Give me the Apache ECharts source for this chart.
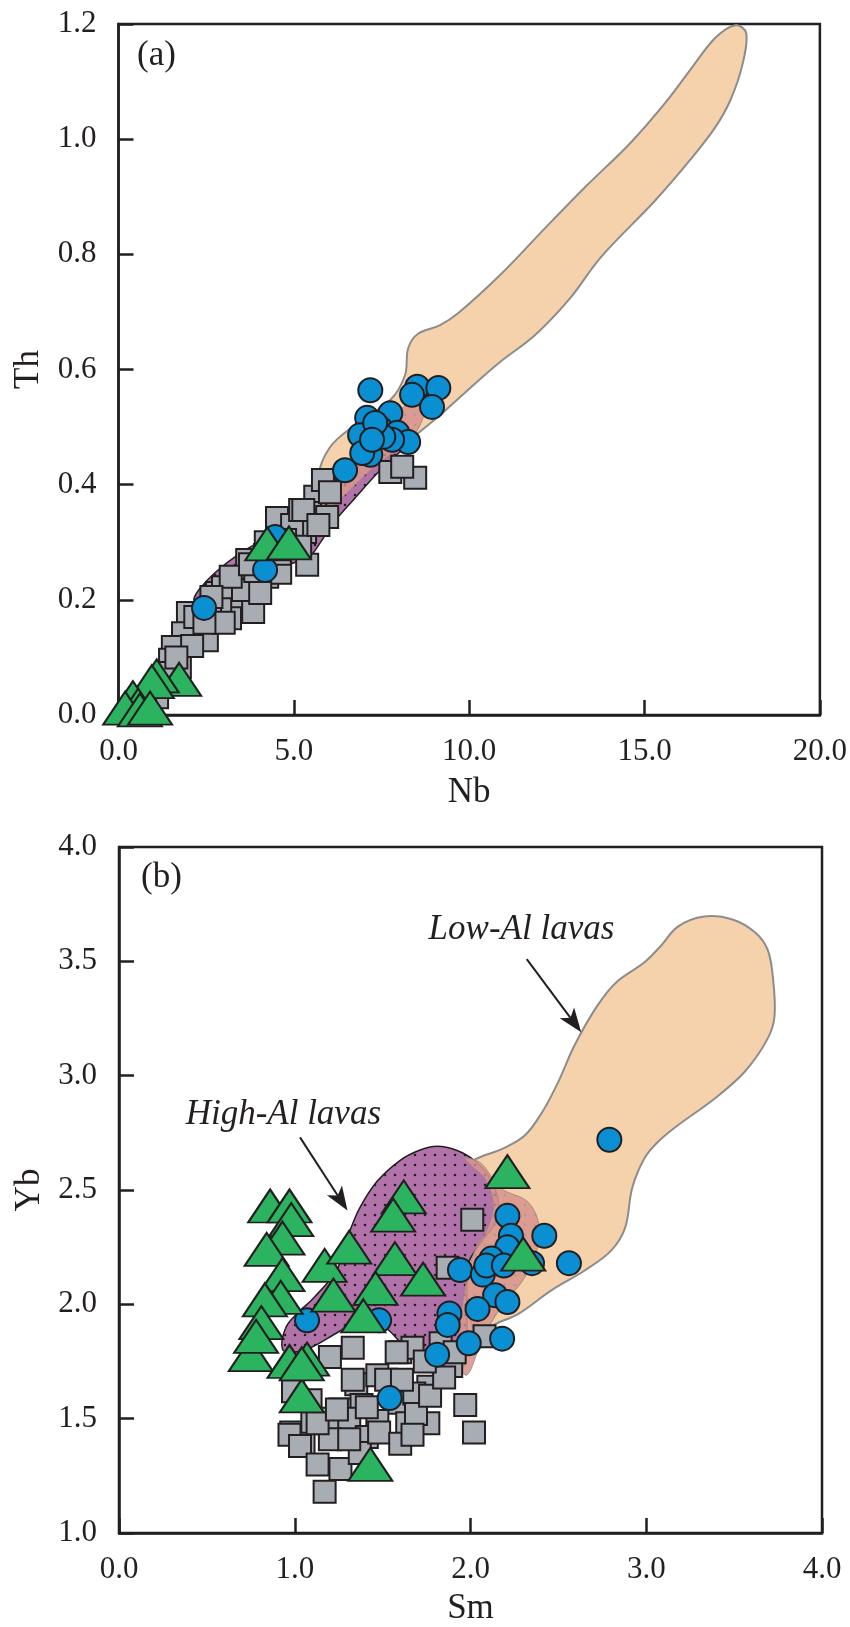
<!DOCTYPE html>
<html>
<head>
<meta charset="utf-8">
<script src="https://cdn.jsdelivr.net/npm/echarts@6/dist/echarts.min.js"></script>
<style>
  html, body { margin: 0; padding: 0; background: #fff; }
  #chart { width: 850px; height: 1627px; }
</style>
</head>
<body>
<div id="chart"></div>
<script>
// ---------- Panel (a): Th vs Nb ----------
const nbTicks = [0, 5, 10, 15, 20];
const thTicks = [0, 0.2, 0.4, 0.6, 0.8, 1.0, 1.2];

const aSquares = [
  [5.89, 0.403], [5.61, 0.379], [5.46, 0.351], [5.95, 0.344], [4.52, 0.342],
  [4.98, 0.321], [5.32, 0.318], [5.38, 0.261], [4.04, 0.261], [4.24, 0.240],
  [4.61, 0.247], [4.95, 0.330], [3.67, 0.269], [3.81, 0.234], [3.27, 0.203],
  [2.81, 0.212], [3.84, 0.179], [3.18, 0.168], [2.70, 0.177], [2.33, 0.148],
  [1.98, 0.177], [1.84, 0.142], [2.52, 0.130], [1.55, 0.118], [1.47, 0.096],
  [1.75, 0.083], [1.38, 0.073], [1.10, 0.031], [0.76, 0.017], [7.75, 0.422],
  [8.46, 0.412], [8.09, 0.431], [5.83, 0.408], [6.03, 0.387], [4.18, 0.278],
  [3.47, 0.226], [2.90, 0.191], [2.19, 0.170], [5.18, 0.356], [4.75, 0.304],
  [5.18, 0.292], [5.27, 0.356], [3.47, 0.234], [2.98, 0.222], [2.61, 0.177],
  [3.55, 0.217], [4.04, 0.212], [4.40, 0.285], [3.00, 0.160], [2.10, 0.120],
  [1.65, 0.100], [5.70, 0.330], [4.20, 0.300], [3.90, 0.250], [2.45, 0.160],
  [3.20, 0.240], [2.65, 0.205], [3.75, 0.262], [4.60, 0.280]
];
const aCircles = [
  [7.18, 0.564], [8.52, 0.570], [9.12, 0.568], [8.37, 0.556], [8.94, 0.535],
  [7.75, 0.524], [7.09, 0.516], [7.46, 0.498], [6.89, 0.486], [7.95, 0.490],
  [8.26, 0.474], [7.80, 0.478], [7.55, 0.483], [7.18, 0.452], [6.95, 0.455],
  [6.46, 0.425], [7.32, 0.507], [7.23, 0.478], [4.47, 0.309], [4.18, 0.252],
  [2.44, 0.186]
];
const aTriangles = [
  [4.24, 0.297], [4.86, 0.299], [1.73, 0.062], [1.09, 0.068], [0.95, 0.058],
  [0.41, 0.030], [0.56, 0.017], [0.19, 0.012], [0.61, 0.009], [0.90, 0.012]
];
// outlines of the compositional fields
const aLowAlField = [
  [5.69, 0.412], [6.03, 0.465], [6.75, 0.504], [7.75, 0.547], [8.17, 0.590],
  [8.26, 0.637], [8.54, 0.662], [9.17, 0.677], [9.69, 0.698], [10.88, 0.764],
  [12.17, 0.846], [13.31, 0.917], [14.59, 0.993], [15.59, 1.063], [16.30, 1.120],
  [17.02, 1.176], [17.59, 1.198], [17.90, 1.184], [17.79, 1.129], [17.45, 1.068],
  [17.02, 1.021], [16.30, 0.964], [15.31, 0.894], [13.74, 0.794], [12.88, 0.724],
  [11.88, 0.660], [10.88, 0.613], [10.03, 0.568], [9.17, 0.521], [8.32, 0.478],
  [7.46, 0.434], [6.46, 0.391], [5.89, 0.382]
];
const aHighAlField = [
  [2.15, 0.200], [2.30, 0.218], [2.75, 0.247], [3.47, 0.281], [4.24, 0.309],
  [4.89, 0.342], [5.55, 0.373], [6.32, 0.408], [7.18, 0.446], [7.89, 0.478],
  [8.32, 0.495], [8.46, 0.478], [8.03, 0.457], [7.46, 0.425], [6.69, 0.373],
  [6.12, 0.333], [5.75, 0.299], [5.46, 0.276], [4.89, 0.262], [4.04, 0.245],
  [3.00, 0.213], [2.35, 0.192]
];
const aOverlapField = [
  [4.89, 0.347], [5.46, 0.382], [6.18, 0.417], [6.89, 0.460], [7.61, 0.504],
  [8.18, 0.538], [8.54, 0.556], [8.75, 0.547], [8.66, 0.512], [8.32, 0.478],
  [7.75, 0.452], [7.18, 0.425], [6.46, 0.382], [5.89, 0.347], [5.32, 0.321]
];

// ---------- Panel (b): Yb vs Sm ----------
const smTicks = [0, 1, 2, 3, 4];
const ybTicks = [1.0, 1.5, 2.0, 2.5, 3.0, 3.5, 4.0];

const bSquares = [
  [2.01, 2.37], [1.97, 1.56], [2.02, 1.44], [1.87, 2.16], [2.08, 1.86],
  [1.89, 1.73], [1.76, 1.64], [1.76, 1.48], [1.33, 1.81], [1.60, 1.79],
  [1.35, 1.65], [1.47, 1.69], [1.26, 1.54], [1.38, 1.56], [1.59, 1.57],
  [1.68, 1.61], [0.99, 1.62], [0.98, 1.44], [1.10, 1.48], [1.21, 1.50],
  [1.31, 1.50], [1.47, 1.49], [1.41, 1.42], [1.64, 1.48], [1.20, 1.41],
  [1.05, 1.39], [1.20, 1.77], [0.97, 1.43], [1.03, 1.38], [1.13, 1.30],
  [1.17, 1.18], [1.26, 1.28], [1.37, 1.35], [1.48, 1.44], [1.60, 1.39],
  [1.31, 1.41], [1.13, 1.48], [1.41, 1.55], [1.24, 1.54], [1.09, 1.58],
  [1.52, 1.67], [1.33, 1.67], [1.61, 1.67], [1.67, 1.81], [1.58, 1.79],
  [1.69, 1.52], [1.67, 1.43], [1.83, 1.83], [1.77, 1.60], [1.85, 1.68],
  [1.74, 1.75], [1.91, 1.79]
];
const bCircles = [
  [2.21, 2.387], [2.23, 2.30], [2.42, 2.30], [2.21, 2.25], [2.12, 2.20],
  [1.94, 2.15], [2.07, 2.13], [2.09, 2.17], [2.19, 2.17], [2.35, 2.18],
  [2.56, 2.18], [2.14, 2.04], [2.21, 2.01], [2.04, 1.98], [1.88, 1.96],
  [1.87, 1.91], [1.99, 1.83], [2.18, 1.85], [1.81, 1.78], [1.07, 1.93],
  [1.54, 1.59], [1.48, 1.93], [2.79, 2.72]
];
const bTriangles = [
  [0.86, 2.43], [0.97, 2.43], [0.98, 2.37], [0.93, 2.29], [0.84, 2.24],
  [0.93, 2.13], [0.92, 2.03], [0.83, 2.02], [0.81, 1.92], [0.75, 1.78],
  [0.78, 1.86], [1.17, 2.17], [1.31, 2.25], [1.22, 2.04], [1.57, 2.20],
  [1.46, 2.07], [1.39, 1.95], [1.07, 1.76], [1.04, 1.60], [0.97, 1.75],
  [1.43, 1.30], [1.62, 2.47], [1.56, 2.39], [2.21, 2.58], [2.30, 2.22],
  [1.73, 2.11], [1.04, 1.74]
];
const bLowAlField = [
  [2.00, 2.617], [2.04, 2.639], [2.19, 2.683], [2.31, 2.739], [2.41, 2.843],
  [2.50, 2.974], [2.59, 3.130], [2.72, 3.304], [2.83, 3.409], [2.99, 3.496],
  [3.08, 3.565], [3.18, 3.652], [3.33, 3.696], [3.49, 3.683], [3.62, 3.626],
  [3.69, 3.552], [3.72, 3.435], [3.73, 3.261], [3.69, 3.161], [3.56, 3.017],
  [3.39, 2.900], [3.18, 2.783], [3.07, 2.713], [2.99, 2.639], [2.92, 2.509],
  [2.88, 2.335], [2.80, 2.235], [2.65, 2.148], [2.46, 2.061], [2.27, 1.957],
  [2.14, 1.913], [2.04, 1.857], [1.98, 2.03], [1.97, 2.335]
];
const bHighAlField = [
  [0.93, 1.804], [0.95, 1.900], [1.02, 1.965], [1.11, 2.030], [1.24, 2.152],
  [1.31, 2.313], [1.37, 2.422], [1.47, 2.539], [1.60, 2.630], [1.71, 2.674],
  [1.81, 2.691], [1.92, 2.674], [2.02, 2.630], [2.11, 2.552], [2.16, 2.443],
  [2.14, 2.357], [2.06, 2.270], [1.99, 2.183], [1.98, 2.074], [1.98, 1.943],
  [1.98, 1.791], [1.94, 1.704], [1.85, 1.670], [1.71, 1.750], [1.60, 1.835],
  [1.51, 1.900], [1.37, 1.930], [1.25, 1.880], [1.09, 1.810], [0.99, 1.790]
];
const bOverlapField = [
  [1.97, 2.639], [2.06, 2.617], [2.17, 2.509], [2.32, 2.452], [2.38, 2.378],
  [2.39, 2.291], [2.36, 2.196], [2.29, 2.096], [2.21, 2.022], [2.12, 1.922],
  [2.04, 1.791], [1.98, 1.691], [1.93, 1.735], [1.94, 1.900], [1.97, 2.074],
  [2.02, 2.226], [2.10, 2.335], [2.13, 2.443], [2.08, 2.552], [2.01, 2.604]
];

// annotation text anchors and arrows (Sm, Yb)
const bLabels = [
  { text: 'Low-Al lavas', at: [2.29, 3.64], from: [2.32, 3.51], to: [2.63, 3.19] },
  { text: 'High-Al lavas', at: [0.935, 2.83], from: [1.03, 2.73], to: [1.30, 2.41] }
];

// ---------- styling ----------
const INK = '#231f20';
const SERIF = '"Liberation Serif", "Times New Roman", serif';
const PEACH = '#f6d2ac';
const PURPLE = '#b173a9';
const PINK = '#d9958f';

function dotPattern(bg, dot, step, r) {
  const c = document.createElement('canvas');
  c.width = step; c.height = step;
  const g = c.getContext('2d');
  g.fillStyle = bg; g.fillRect(0, 0, step, step);
  g.fillStyle = dot;
  g.beginPath(); g.arc(step / 2, step / 2, r, 0, Math.PI * 2); g.fill();
  return { image: c, repeat: 'repeat' };
}

function fieldSeries(gi, pts, style, z) {
  return {
    type: 'custom', xAxisIndex: gi, yAxisIndex: gi, silent: true, z: z,
    clip: true,
    data: [pts[0]],
    renderItem: function (params, api) {
      return {
        type: 'polygon',
        shape: { points: pts.map(p => api.coord(p)), smooth: 0.35 },
        style: style
      };
    }
  };
}

function scatter(gi, data, kind, z) {
  const base = { type: 'scatter', xAxisIndex: gi, yAxisIndex: gi, data: data, z: z, silent: true,
    itemStyle: { borderColor: INK, borderWidth: 2, opacity: 1 } };
  if (kind === 'square') { base.symbol = 'rect'; base.symbolSize = 22; base.itemStyle.color = '#a8adb3'; }
  if (kind === 'circle') { base.symbol = 'circle'; base.symbolSize = 24; base.itemStyle.color = '#0a8fd3'; }
  if (kind === 'triangle') { base.symbol = 'triangle'; base.symbolSize = [44, 33]; base.itemStyle.color = '#2bb360'; }
  return base;
}

function valueAxis(gi, ticks, name, isX, gap) {
  return {
    type: 'value', gridIndex: gi,
    min: ticks[0], max: ticks[ticks.length - 1], interval: ticks[1] - ticks[0],
    name: name, nameLocation: 'middle', nameGap: gap,
    nameTextStyle: { fontFamily: SERIF, fontSize: 35, color: INK },
    axisLine: { show: true, onZero: false, lineStyle: { color: INK, width: 2.5 } },
    axisTick: { show: true, inside: true, length: 15, lineStyle: { color: INK, width: 2.5 } },
    axisLabel: { show: true, margin: isX ? 21 : 22, fontFamily: SERIF, fontSize: 31, color: INK,
      formatter: v => v.toFixed(1) },
    splitLine: { show: false }
  };
}

const chart = echarts.init(document.getElementById('chart'), null, { renderer: 'canvas' });

const purpleFill = dotPattern(PURPLE, INK, 10, 1.3);
const pinkFill = dotPattern(PINK, '#a89384', 10, 1.3);

chart.setOption({
  animation: false,
  backgroundColor: '#fff',
  grid: [
    { left: 118.5, top: 24, width: 701.5, height: 691, show: true, borderColor: INK, borderWidth: 2.5, backgroundColor: 'transparent' },
    { left: 119, top: 847, width: 703, height: 690, show: true, borderColor: INK, borderWidth: 2.5, backgroundColor: 'transparent' }
  ],
  xAxis: [valueAxis(0, nbTicks, 'Nb', true, 60), valueAxis(1, smTicks, 'Sm', true, 58)],
  yAxis: [valueAxis(0, thTicks, 'Th', false, 72), valueAxis(1, ybTicks, 'Yb', false, 72)],
  graphic: [
    { type: 'text', left: 137, top: 38, style: { text: '(a)', font: '35px ' + SERIF, fill: INK } },
    { type: 'text', left: 141, top: 860, style: { text: '(b)', font: '35px ' + SERIF, fill: INK } }
  ],
  series: [
    fieldSeries(0, aLowAlField, { fill: PEACH, stroke: '#8c8c8c', lineWidth: 2 }, 1),
    fieldSeries(0, aHighAlField, { fill: purpleFill, stroke: INK, lineWidth: 1.5 }, 2),
    fieldSeries(0, aOverlapField, { fill: pinkFill, stroke: '#a0877c', lineWidth: 1, opacity: 0.9 }, 3),
    scatter(0, aSquares, 'square', 5),
    scatter(0, aCircles, 'circle', 6),
    scatter(0, aTriangles, 'triangle', 7),

    fieldSeries(1, bLowAlField, { fill: PEACH, stroke: '#8c8c8c', lineWidth: 2 }, 1),
    fieldSeries(1, bHighAlField, { fill: purpleFill, stroke: INK, lineWidth: 1.5 }, 2),
    fieldSeries(1, bOverlapField, { fill: pinkFill, stroke: '#a0877c', lineWidth: 1, opacity: 0.88 }, 3),
    scatter(1, bSquares, 'square', 5),
    scatter(1, bCircles, 'circle', 6),
    scatter(1, bTriangles, 'triangle', 7),
    {
      type: 'custom', xAxisIndex: 1, yAxisIndex: 1, silent: true, z: 8,
      data: bLabels.map(l => l.at),
      renderItem: function (params, api) {
        const l = bLabels[params.dataIndex];
        const p = api.coord(l.at);
        const a = api.coord(l.from);
        const b = api.coord(l.to);
        const ang = Math.atan2(b[1] - a[1], b[0] - a[0]);
        const hl = 24, hw = 9;
        const bx = b[0] - hl * Math.cos(ang), by = b[1] - hl * Math.sin(ang);
        const nx = -Math.sin(ang), ny = Math.cos(ang);
        const notch = [b[0] - hl * 0.75 * Math.cos(ang), b[1] - hl * 0.75 * Math.sin(ang)];
        return {
          type: 'group',
          children: [
            { type: 'text', style: { text: l.text, x: p[0], y: p[1], align: 'center', verticalAlign: 'middle',
              font: 'italic 35px ' + SERIF, fill: INK } },
            { type: 'line', shape: { x1: a[0], y1: a[1], x2: notch[0], y2: notch[1] },
              style: { stroke: INK, lineWidth: 2 } },
            { type: 'polygon', shape: { points: [b, [bx + nx * hw, by + ny * hw], notch, [bx - nx * hw, by - ny * hw]] },
              style: { fill: INK } }
          ]
        };
      }
    }
  ]
});
</script>
</body>
</html>
